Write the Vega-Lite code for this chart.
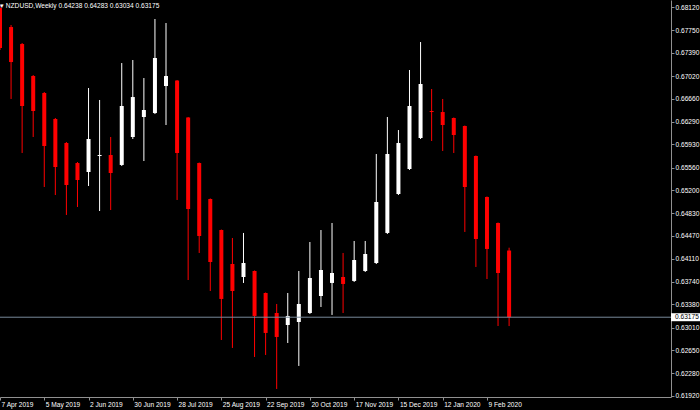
{
  "$schema": "https://vega.github.io/schema/vega-lite/v6.json",
  "width": 671,
  "height": 397,
  "autosize": {"type": "none"},
  "padding": {"left": 0, "top": 0, "right": 29, "bottom": 13},
  "background": "#000000",
  "config": {
    "view": {"stroke": null},
    "font": "Liberation Sans",
    "axis": {
      "grid": false,
      "domainColor": "#909090",
      "domainWidth": 1,
      "tickColor": "#909090",
      "tickSize": 3,
      "labelColor": "#ffffff",
      "labelFont": "Liberation Sans",
      "labelFontSize": 6.6,
      "labelPadding": 1,
      "labelOverlap": false,
      "labelFlush": false
    },
    "axisX": {"labelAlign": "left", "labelBaseline": "top", "labelOffset": 1}
  },
  "title": {
    "text": "▾ NZDUSD,Weekly  0.64238 0.64283 0.63034 0.63175",
    "anchor": "start",
    "orient": "top",
    "offset": -15,
    "baseline": "alphabetic",
    "dx": 2,
    "fontSize": 6.6,
    "fontWeight": "normal",
    "font": "Liberation Sans",
    "color": "#ffffff"
  },
  "datasets": {
    "candles": [
      {"date": "2019-04-07", "open": 0.68104, "high": 0.68152, "low": 0.67435, "close": 0.67466},
      {"date": "2019-04-14", "open": 0.67801, "high": 0.67833, "low": 0.66654, "close": 0.67243},
      {"date": "2019-04-21", "open": 0.67530, "high": 0.67546, "low": 0.65793, "close": 0.66542},
      {"date": "2019-04-28", "open": 0.67020, "high": 0.67036, "low": 0.66048, "close": 0.66462},
      {"date": "2019-05-05", "open": 0.66749, "high": 0.66765, "low": 0.65251, "close": 0.65904},
      {"date": "2019-05-12", "open": 0.66335, "high": 0.66351, "low": 0.65123, "close": 0.65570},
      {"date": "2019-05-19", "open": 0.65952, "high": 0.65968, "low": 0.64805, "close": 0.65283},
      {"date": "2019-05-26", "open": 0.65633, "high": 0.65649, "low": 0.64932, "close": 0.65362},
      {"date": "2019-06-02", "open": 0.65490, "high": 0.66829, "low": 0.65267, "close": 0.66016},
      {"date": "2019-06-09", "open": 0.65745, "high": 0.66638, "low": 0.64868, "close": 0.65761},
      {"date": "2019-06-16", "open": 0.65761, "high": 0.66048, "low": 0.64884, "close": 0.65474},
      {"date": "2019-06-23", "open": 0.65602, "high": 0.67227, "low": 0.65586, "close": 0.66542},
      {"date": "2019-06-30", "open": 0.66048, "high": 0.67275, "low": 0.66016, "close": 0.66685},
      {"date": "2019-07-07", "open": 0.66367, "high": 0.66988, "low": 0.65665, "close": 0.66478},
      {"date": "2019-07-14", "open": 0.66430, "high": 0.67929, "low": 0.66414, "close": 0.67307},
      {"date": "2019-07-21", "open": 0.66861, "high": 0.67865, "low": 0.66239, "close": 0.67020},
      {"date": "2019-07-28", "open": 0.66948, "high": 0.66956, "low": 0.65044, "close": 0.65793},
      {"date": "2019-08-04", "open": 0.66359, "high": 0.66367, "low": 0.63768, "close": 0.64900},
      {"date": "2019-08-11", "open": 0.65633, "high": 0.65641, "low": 0.64199, "close": 0.64470},
      {"date": "2019-08-18", "open": 0.65060, "high": 0.65068, "low": 0.63593, "close": 0.64055},
      {"date": "2019-08-25", "open": 0.64565, "high": 0.64573, "low": 0.62812, "close": 0.63466},
      {"date": "2019-09-01", "open": 0.64023, "high": 0.64438, "low": 0.62685, "close": 0.63593},
      {"date": "2019-09-08", "open": 0.63816, "high": 0.64518, "low": 0.63721, "close": 0.64039},
      {"date": "2019-09-15", "open": 0.63912, "high": 0.63920, "low": 0.62541, "close": 0.63195},
      {"date": "2019-09-22", "open": 0.63561, "high": 0.63569, "low": 0.62573, "close": 0.62924},
      {"date": "2019-09-29", "open": 0.63242, "high": 0.63386, "low": 0.62031, "close": 0.62860},
      {"date": "2019-10-06", "open": 0.63051, "high": 0.63561, "low": 0.62764, "close": 0.63195},
      {"date": "2019-10-13", "open": 0.63099, "high": 0.63912, "low": 0.62398, "close": 0.63386},
      {"date": "2019-10-20", "open": 0.63242, "high": 0.64374, "low": 0.63226, "close": 0.63800},
      {"date": "2019-10-27", "open": 0.63513, "high": 0.64565, "low": 0.63338, "close": 0.63928},
      {"date": "2019-11-03", "open": 0.63721, "high": 0.64677, "low": 0.63211, "close": 0.63880},
      {"date": "2019-11-10", "open": 0.63816, "high": 0.64199, "low": 0.63242, "close": 0.63705},
      {"date": "2019-11-17", "open": 0.63753, "high": 0.64390, "low": 0.63737, "close": 0.64087},
      {"date": "2019-11-24", "open": 0.63912, "high": 0.64390, "low": 0.63896, "close": 0.64183},
      {"date": "2019-12-01", "open": 0.64039, "high": 0.65777, "low": 0.64023, "close": 0.65012},
      {"date": "2019-12-08", "open": 0.64518, "high": 0.66367, "low": 0.64502, "close": 0.65777},
      {"date": "2019-12-15", "open": 0.65139, "high": 0.66159, "low": 0.65123, "close": 0.65952},
      {"date": "2019-12-22", "open": 0.65538, "high": 0.67116, "low": 0.65522, "close": 0.66542},
      {"date": "2019-12-29", "open": 0.66032, "high": 0.67562, "low": 0.66016, "close": 0.66893},
      {"date": "2020-01-05", "open": 0.66462, "high": 0.66813, "low": 0.65984, "close": 0.66446},
      {"date": "2020-01-12", "open": 0.66446, "high": 0.66654, "low": 0.65825, "close": 0.66239},
      {"date": "2020-01-19", "open": 0.66351, "high": 0.66359, "low": 0.65793, "close": 0.66080},
      {"date": "2020-01-26", "open": 0.66223, "high": 0.66231, "low": 0.64534, "close": 0.65251},
      {"date": "2020-02-02", "open": 0.65745, "high": 0.65753, "low": 0.63976, "close": 0.64422},
      {"date": "2020-02-09", "open": 0.65091, "high": 0.65100, "low": 0.63784, "close": 0.64263},
      {"date": "2020-02-16", "open": 0.64677, "high": 0.64685, "low": 0.63035, "close": 0.63880},
      {"date": "2020-02-23", "open": 0.64238, "high": 0.64283, "low": 0.63034, "close": 0.63175}
    ],
    "bid": [
      {"date": "2020-06-04T09:30:00Z", "price": 0.63175}
    ]
  },
  "layer": [
    {
      "data": {"name": "candles"},
      "mark": {"type": "rule", "strokeWidth": 1},
      "encoding": {
        "x": {
          "field": "date",
          "type": "temporal",
          "scale": {
            "type": "utc",
            "domain": [
              {"year": 2019, "month": 4, "date": 7, "utc": true},
              {"year": 2020, "month": 6, "date": 4, "hours": 9, "minutes": 30, "utc": true}
            ]
          },
          "axis": {
            "title": null, "orient": "bottom", "labelExpr": "utcFormat(datum.value, '%-d %b %Y')", "labelOverlap": false, "labelFlush": false,
            "values": [
              {"year": 2019, "month": 4, "date": 7, "utc": true},
              {"year": 2019, "month": 5, "date": 5, "utc": true},
              {"year": 2019, "month": 6, "date": 2, "utc": true},
              {"year": 2019, "month": 6, "date": 30, "utc": true},
              {"year": 2019, "month": 7, "date": 28, "utc": true},
              {"year": 2019, "month": 8, "date": 25, "utc": true},
              {"year": 2019, "month": 9, "date": 22, "utc": true},
              {"year": 2019, "month": 10, "date": 20, "utc": true},
              {"year": 2019, "month": 11, "date": 17, "utc": true},
              {"year": 2019, "month": 12, "date": 15, "utc": true},
              {"year": 2020, "month": 1, "date": 12, "utc": true},
              {"year": 2020, "month": 2, "date": 9, "utc": true}
            ]
          }
        },
        "y": {
          "field": "low",
          "type": "quantitative",
          "scale": {"domain": [0.61903, 0.68232], "zero": false, "nice": false},
          "axis": {
            "title": null, "orient": "right", "format": ".5f", "labelOverlap": false, "labelFlush": false,
            "values": [0.6812, 0.6775, 0.6739, 0.6702, 0.6666, 0.6629, 0.6593, 0.6556, 0.652, 0.6483, 0.6447, 0.6411, 0.6374, 0.6338, 0.6301, 0.6265, 0.6228, 0.6192]
          }
        },
        "y2": {"field": "high"},
        "color": {"condition": {"test": "datum.close >= datum.open", "value": "#ffffff"}, "value": "#ff0000"}
      }
    },
    {
      "data": {"name": "candles"},
      "mark": {"type": "rule", "strokeWidth": 4},
      "encoding": {
        "x": {
          "field": "date",
          "type": "temporal",
          "axis": {
            "title": null, "orient": "bottom", "labelExpr": "utcFormat(datum.value, '%-d %b %Y')", "labelOverlap": false, "labelFlush": false,
            "values": [
              {"year": 2019, "month": 4, "date": 7, "utc": true},
              {"year": 2019, "month": 5, "date": 5, "utc": true},
              {"year": 2019, "month": 6, "date": 2, "utc": true},
              {"year": 2019, "month": 6, "date": 30, "utc": true},
              {"year": 2019, "month": 7, "date": 28, "utc": true},
              {"year": 2019, "month": 8, "date": 25, "utc": true},
              {"year": 2019, "month": 9, "date": 22, "utc": true},
              {"year": 2019, "month": 10, "date": 20, "utc": true},
              {"year": 2019, "month": 11, "date": 17, "utc": true},
              {"year": 2019, "month": 12, "date": 15, "utc": true},
              {"year": 2020, "month": 1, "date": 12, "utc": true},
              {"year": 2020, "month": 2, "date": 9, "utc": true}
            ]
          }
        },
        "y": {
          "field": "open",
          "type": "quantitative",
          "axis": {
            "title": null, "orient": "right", "format": ".5f", "labelOverlap": false, "labelFlush": false,
            "values": [0.6812, 0.6775, 0.6739, 0.6702, 0.6666, 0.6629, 0.6593, 0.6556, 0.652, 0.6483, 0.6447, 0.6411, 0.6374, 0.6338, 0.6301, 0.6265, 0.6228, 0.6192]
          }
        },
        "y2": {"field": "close"},
        "color": {"condition": {"test": "datum.close >= datum.open", "value": "#ffffff"}, "value": "#ff0000"}
      }
    },
    {
      "data": {"name": "bid"},
      "mark": {"type": "rule", "color": "#778899", "strokeWidth": 1},
      "encoding": {
        "y": {
          "field": "price",
          "type": "quantitative",
          "axis": {
            "title": null, "orient": "right", "format": ".5f", "labelOverlap": false, "labelFlush": false,
            "values": [0.6812, 0.6775, 0.6739, 0.6702, 0.6666, 0.6629, 0.6593, 0.6556, 0.652, 0.6483, 0.6447, 0.6411, 0.6374, 0.6338, 0.6301, 0.6265, 0.6228, 0.6192]
          }
        }
      }
    },
    {
      "data": {"name": "bid"},
      "mark": {"type": "point", "shape": "M0,-4L29,-4L29,4L0,4Z", "size": 4, "filled": true, "color": "#ffffff", "opacity": 1},
      "encoding": {
        "x": {
          "field": "date",
          "type": "temporal",
          "axis": {
            "title": null, "orient": "bottom", "labelExpr": "utcFormat(datum.value, '%-d %b %Y')", "labelOverlap": false, "labelFlush": false,
            "values": [
              {"year": 2019, "month": 4, "date": 7, "utc": true},
              {"year": 2019, "month": 5, "date": 5, "utc": true},
              {"year": 2019, "month": 6, "date": 2, "utc": true},
              {"year": 2019, "month": 6, "date": 30, "utc": true},
              {"year": 2019, "month": 7, "date": 28, "utc": true},
              {"year": 2019, "month": 8, "date": 25, "utc": true},
              {"year": 2019, "month": 9, "date": 22, "utc": true},
              {"year": 2019, "month": 10, "date": 20, "utc": true},
              {"year": 2019, "month": 11, "date": 17, "utc": true},
              {"year": 2019, "month": 12, "date": 15, "utc": true},
              {"year": 2020, "month": 1, "date": 12, "utc": true},
              {"year": 2020, "month": 2, "date": 9, "utc": true}
            ]
          }
        },
        "y": {
          "field": "price",
          "type": "quantitative",
          "axis": {
            "title": null, "orient": "right", "format": ".5f", "labelOverlap": false, "labelFlush": false,
            "values": [0.6812, 0.6775, 0.6739, 0.6702, 0.6666, 0.6629, 0.6593, 0.6556, 0.652, 0.6483, 0.6447, 0.6411, 0.6374, 0.6338, 0.6301, 0.6265, 0.6228, 0.6192]
          }
        }
      }
    },
    {
      "data": {"name": "bid"},
      "mark": {"type": "text", "align": "left", "baseline": "middle", "dx": 4, "fontSize": 6.6, "font": "Liberation Sans", "color": "#000000"},
      "encoding": {
        "x": {
          "field": "date",
          "type": "temporal",
          "axis": {
            "title": null, "orient": "bottom", "labelExpr": "utcFormat(datum.value, '%-d %b %Y')", "labelOverlap": false, "labelFlush": false,
            "values": [
              {"year": 2019, "month": 4, "date": 7, "utc": true},
              {"year": 2019, "month": 5, "date": 5, "utc": true},
              {"year": 2019, "month": 6, "date": 2, "utc": true},
              {"year": 2019, "month": 6, "date": 30, "utc": true},
              {"year": 2019, "month": 7, "date": 28, "utc": true},
              {"year": 2019, "month": 8, "date": 25, "utc": true},
              {"year": 2019, "month": 9, "date": 22, "utc": true},
              {"year": 2019, "month": 10, "date": 20, "utc": true},
              {"year": 2019, "month": 11, "date": 17, "utc": true},
              {"year": 2019, "month": 12, "date": 15, "utc": true},
              {"year": 2020, "month": 1, "date": 12, "utc": true},
              {"year": 2020, "month": 2, "date": 9, "utc": true}
            ]
          }
        },
        "y": {
          "field": "price",
          "type": "quantitative",
          "axis": {
            "title": null, "orient": "right", "format": ".5f", "labelOverlap": false, "labelFlush": false,
            "values": [0.6812, 0.6775, 0.6739, 0.6702, 0.6666, 0.6629, 0.6593, 0.6556, 0.652, 0.6483, 0.6447, 0.6411, 0.6374, 0.6338, 0.6301, 0.6265, 0.6228, 0.6192]
          }
        },
        "text": {"field": "price", "type": "quantitative", "format": ".5f"}
      }
    }
  ]
}
